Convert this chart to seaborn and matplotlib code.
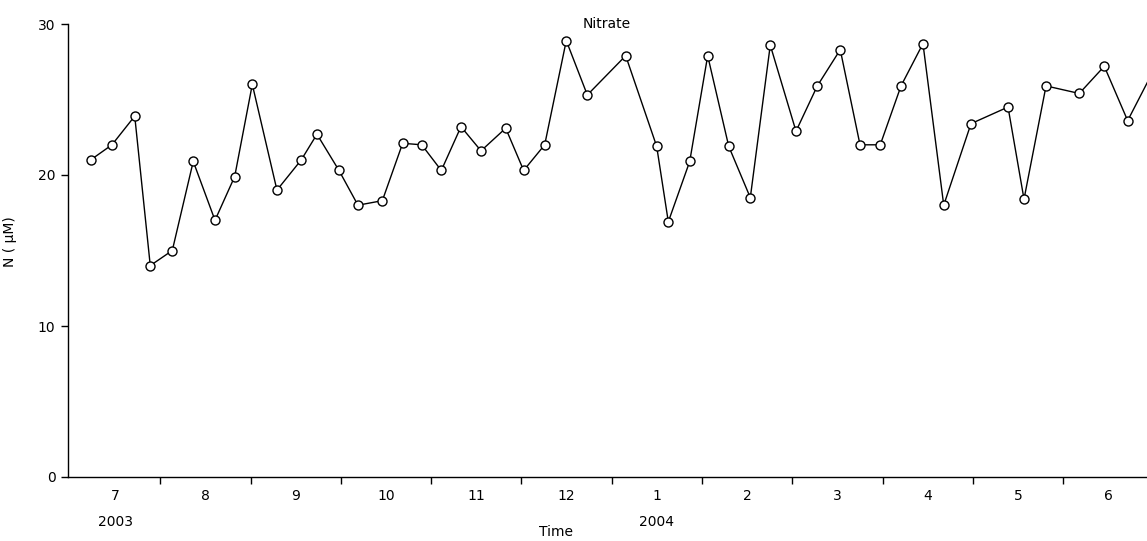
import matplotlib
matplotlib.use('Agg')
import matplotlib.pyplot as plt
import matplotlib.transforms as mtransforms
import seaborn as sns

# Sampling times, in months since 1 July 2003 (fractional), and nitrate values (uM)
month_pos = [0.229, 0.465, 0.717, 0.889, 1.133, 1.365, 1.606, 1.824, 2.019, 2.292,
             2.561, 2.735, 2.979, 3.189, 3.459, 3.684, 3.895, 4.112, 4.330, 4.552,
             4.825, 5.024, 5.257, 5.496, 5.729, 6.154, 6.497, 6.626, 6.863, 7.062,
             7.295, 7.534, 7.755, 8.040, 8.276, 8.530, 8.749, 8.973, 9.203, 9.446,
             9.676, 9.978, 10.388, 10.565, 10.809, 11.177, 11.454, 11.713, 11.98]
nitrate = [21.0, 22.0, 23.9, 14.0, 15.0, 20.9, 17.0, 19.9, 26.0, 19.0,
           21.0, 22.7, 20.3, 18.0, 18.3, 22.1, 22.0, 20.3, 23.2, 21.6,
           23.1, 20.3, 22.0, 28.9, 25.3, 27.9, 21.9, 16.9, 20.9, 27.9,
           21.9, 18.5, 28.6, 22.9, 25.9, 28.3, 22.0, 22.0, 25.9, 28.7,
           18.0, 23.4, 24.5, 18.4, 25.9, 25.4, 27.2, 23.6, 26.7]
month_labels = ['7', '8', '9', '10', '11', '12', '1', '2', '3', '4', '5', '6']
year_labels = {'2003': 0.5, '2004': 6.5}

sns.set_style('ticks')
plt.rcParams['font.family'] = ['DejaVu Sans']
plt.rcParams['text.color'] = 'black'
plt.rcParams['axes.labelcolor'] = 'black'
plt.rcParams['xtick.color'] = 'black'
plt.rcParams['ytick.color'] = 'black'
plt.rcParams['axes.edgecolor'] = 'black'

fig = plt.figure(figsize=(11.47, 5.41), dpi=100)
ax = fig.add_axes([68 / 1147, 1 - 477 / 541, 1 - 68 / 1147, 453 / 541])

sns.lineplot(x=month_pos, y=nitrate, ax=ax, color='black', linewidth=1.0,
             marker='o', markersize=6.5, markerfacecolor='white',
             markeredgecolor='black', markeredgewidth=1.0, clip_on=True)

ax.set_xlim(-0.022, 11.927)
ax.set_ylim(0, 30)
sns.despine(ax=ax)

# y axis
ax.set_yticks([0, 10, 20, 30])
ax.tick_params(axis='y', length=5, width=1, pad=4, labelsize=10)
ax.set_ylabel('N ( μM)', fontsize=10)
ax.yaxis.set_label_coords(-0.047, 0.52)

# x axis: ticks at month boundaries, labels at month centres
ax.set_xticks(range(1, 12))
ax.set_xticklabels([])
ax.tick_params(axis='x', which='major', length=5, width=1)
ax.set_xticks([i + 0.5 for i in range(12)], minor=True)
ax.set_xticklabels(month_labels, minor=True, fontsize=10)
ax.tick_params(axis='x', which='minor', length=0, pad=9)

trans = mtransforms.blended_transform_factory(ax.transData, ax.transAxes)
for year, pos in year_labels.items():
    ax.text(pos, -0.099, year, transform=trans, ha='center', va='center', fontsize=10)

ax.set_xlabel('Time', fontsize=10)
ax.xaxis.label.set_va('center')
ax.xaxis.set_label_coords(0.452, -0.122)

ax.text(0.499, 1.0, 'Nitrate', transform=ax.transAxes, ha='center', va='center', fontsize=10)

for side in ['left', 'bottom']:
    ax.spines[side].set_linewidth(1.0)

fig.savefig('out.png', dpi=100)
